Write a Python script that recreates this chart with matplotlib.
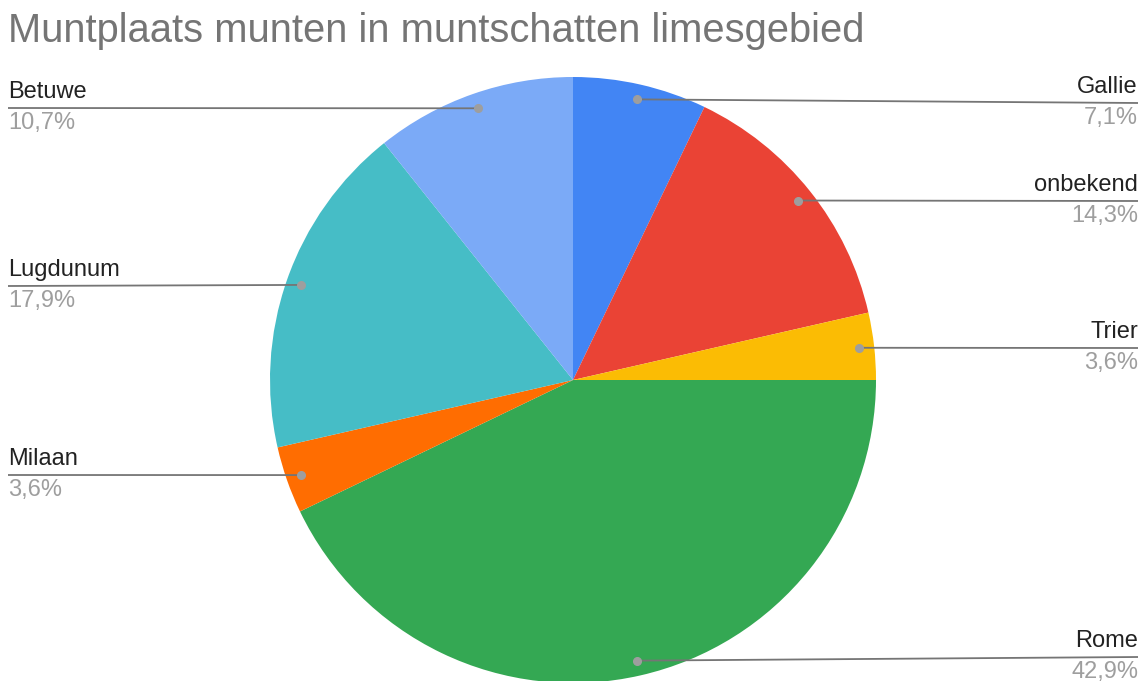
import numpy as np
import matplotlib
matplotlib.use("Agg")
import matplotlib.pyplot as plt

plt.rcParams['font.family'] = ['Liberation Sans', 'DejaVu Sans']

title = "Muntplaats munten in muntschatten limesgebied"
categories = ["Gallie", "onbekend", "Trier", "Rome", "Milaan", "Lugdunum", "Betuwe"]
counts = [2, 4, 1, 12, 1, 5, 3]
colors = ["#4285F4", "#EA4335", "#FBBC04", "#34A853", "#FF6D01", "#46BDC6", "#7BAAF7"]
# label line y positions (pixels)
label_y = [103, 201, 348, 657, 475, 286, 108]

W, H = 1145, 681
fig = plt.figure(figsize=(W / 100, H / 100), dpi=100)
ax = fig.add_axes([0, 0, 1, 1])

cx, cy, r = 573, 380, 303
wedges, _ = ax.pie(counts, colors=colors, startangle=-90, counterclock=True,
                   center=(cx, cy), radius=r, frame=True,
                   wedgeprops=dict(linewidth=0))
ax.set_xlim(0, W)
ax.set_ylim(H, 0)
ax.set_aspect('equal')
ax.axis('off')

total = sum(counts)
for w, name, n, ly in zip(wedges, categories, counts, label_y):
    mid = np.deg2rad((w.theta1 + w.theta2) / 2)
    dx = cx + 0.95 * r * np.cos(mid)
    dy = cy + 0.95 * r * np.sin(mid)
    pct = f"{100 * n / total:.1f}%".replace('.', ',')
    if dx > cx:
        ha, tx = 'right', 1138
    else:
        ha, tx = 'left', 8
    ax.plot([dx, tx], [dy, ly], color='#757575', lw=1.3, solid_capstyle='butt', zorder=3)
    ax.plot([dx], [dy], 'o', color='#9e9e9e', ms=5.5, zorder=4)
    ax.text(tx, ly - 5, name, ha=ha, va='bottom', fontsize=17, color='#222222')
    ax.text(tx, ly + 4, pct, ha=ha, va='top', fontsize=17, color='#9e9e9e')

fig.text(8 / W, 1 - 31 / H, title, ha='left', va='center', fontsize=28.7, color='#757575')

fig.savefig("out.png", dpi=100)
